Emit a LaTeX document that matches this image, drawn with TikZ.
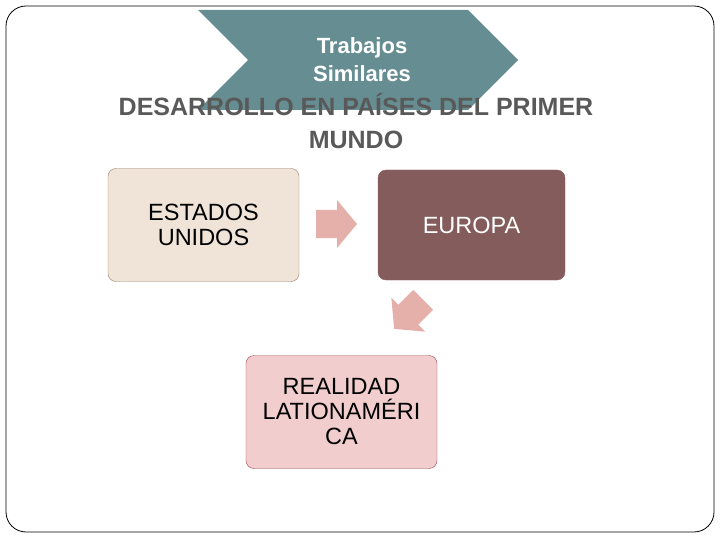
\documentclass[tikz,border=0pt]{standalone}
\usepackage{fontspec}
\setmainfont{Liberation Sans}
\definecolor{teal1}{HTML}{668E92}
\definecolor{tgray}{HTML}{595959}
\definecolor{beige}{HTML}{F0E4D8}
\definecolor{beigeb}{HTML}{9C8070}
\definecolor{maroon1}{HTML}{845C5C}
\definecolor{pink1}{HTML}{F2CDCD}
\definecolor{pinkb}{HTML}{9A4A4A}
\definecolor{arr}{HTML}{E6B0AA}
\begin{document}
\begin{tikzpicture}[x=1pt,y=-1pt,
  box/.style={rounded corners=8pt,minimum width=191pt,minimum height=113pt,align=center,font=\fontsize{23.5}{25}\selectfont,inner sep=0pt},
  blockarrow/.style={fill=arr,draw=none}]
\useasboundingbox (0,0) rectangle (720,540);
\draw[rounded corners=20pt,line width=0.8pt] (6,6) rectangle (714,532);
\fill[teal1] (198,10) -- (468,10) -- (518,60) -- (468,110) -- (198,110) -- (248,60) -- cycle;
\node[text=white,align=center,font=\bfseries\fontsize{22}{28}\selectfont] (chev) at (362,60) {Trabajos\\Similares};
\node[text=tgray,align=center,font=\bfseries\fontsize{25}{33}\selectfont] (title) at (356,121) {DESARROLLO EN PAÍSES DEL PRIMER\\MUNDO};
\node[box,fill=beige,draw=beigeb] (us) at (203.5,225) {ESTADOS\\UNIDOS};
\node[box,fill=maroon1,draw=maroon1,text=white,minimum width=187pt,minimum height=110pt] (eu) at (471.5,225) {EUROPA};
\node[box,fill=pink1,draw=pinkb] (la) at (341.5,412) {REALIDAD\\LATIONAMÉRI\\CA};
\coordinate (a1) at (336,224);
\coordinate (a2) at (409,314);
\fill[blockarrow,shift={(a1)}] (-20,-14) -- (1,-14) -- (1,-24) -- (21,0) -- (1,24) -- (1,14) -- (-20,14) -- cycle;
\fill[blockarrow,shift={(a2)},rotate=-135] (-20,-14) -- (1,-14) -- (1,-24) -- (21,0) -- (1,24) -- (1,14) -- (-20,14) -- cycle;
\end{tikzpicture}
\end{document}
